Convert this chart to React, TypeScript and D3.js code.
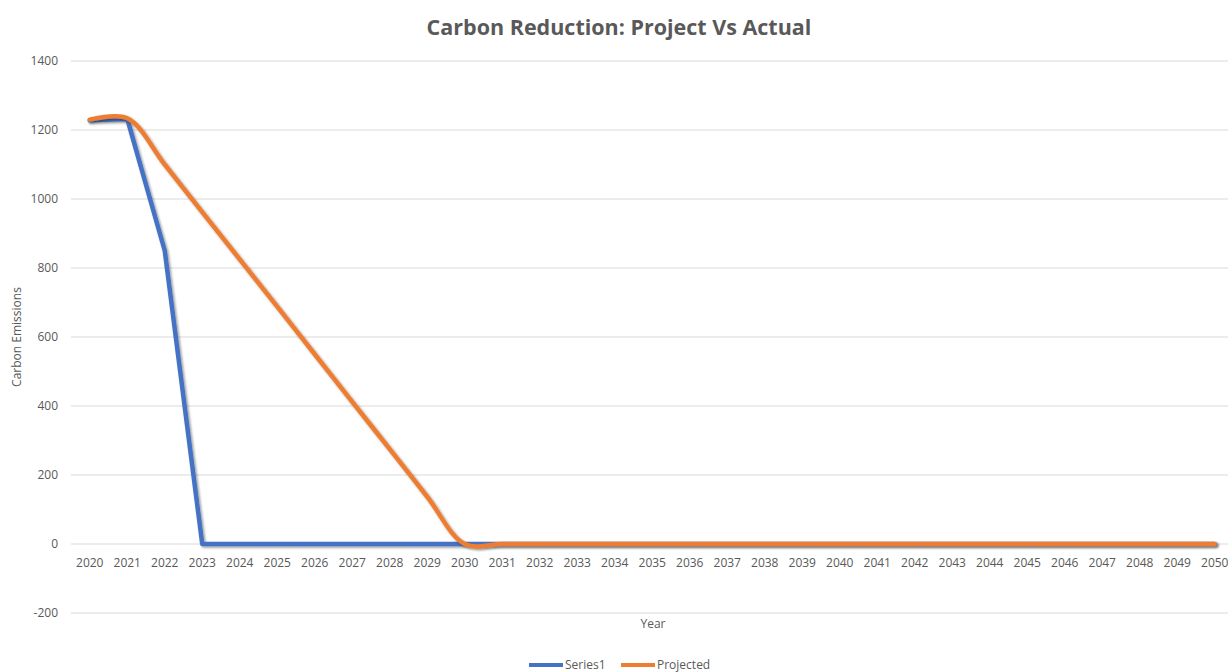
import React, { useEffect } from "react";
import * as d3 from "d3";

const years = d3.range(2020, 2051).map(String);
const series1 = [
  1228, 1232, 850, 0, 0, 0, 0, 0, 0, 0, 0, 0, 0, 0, 0, 0, 0, 0, 0, 0, 0, 0, 0,
  0, 0, 0, 0, 0, 0, 0, 0,
];
const projected = [
  1230, 1234, 1100, 962, 825, 688, 550, 412, 275, 137, 0, 0, 0, 0, 0, 0, 0, 0,
  0, 0, 0, 0, 0, 0, 0, 0, 0, 0, 0, 0, 0,
];
const yTicks = [-200, 0, 200, 400, 600, 800, 1000, 1200, 1400];

const W = 1228;
const H = 672;
const font = "'Open Sans', sans-serif";
const textColor = "#595959";

export default function App() {
  useEffect(() => {
    document.body.style.margin = "0";
  }, []);

  const x = d3
    .scaleBand<string>()
    .domain(years)
    .range([71, 71 + 31 * 37.5]);
  const cx = (d: string) => (x(d) ?? 0) + x.bandwidth() / 2;
  const y = d3.scaleLinear().domain([-200, 1400]).range([613, 61]);

  const makeLine = (curve: d3.CurveFactory) =>
    d3
      .line<number>()
      .x((_, i) => cx(years[i]))
      .y((d) => y(d))
      .curve(curve);

  const series = [
    { name: "Series1", values: series1, color: "#4472C4", curve: d3.curveLinear },
    {
      name: "Projected",
      values: projected,
      color: "#ED7D31",
      curve: d3.curveCatmullRom.alpha(0.5),
    },
  ];

  return (
    <svg width={W} height={H} style={{ display: "block", background: "#fff" }}>
      <defs>
        <filter id="shadow" x="-5%" y="-5%" width="110%" height="110%">
          <feDropShadow dx="1.5" dy="1.5" stdDeviation="1.3" floodColor="#000" floodOpacity="0.4" />
        </filter>
      </defs>
      <text
        x={619}
        y={35}
        textAnchor="middle"
        fontFamily={font}
        fontWeight="bold"
        fontSize={21.5}
        fill={textColor}
      >
        Carbon Reduction: Project Vs Actual
      </text>

      {yTicks.map((t) => (
        <g key={t}>
          <line x1={71} x2={W} y1={y(t)} y2={y(t)} stroke="#d9d9d9" strokeWidth={1} />
          <text
            x={58}
            y={y(t)}
            dy="0.35em"
            textAnchor="end"
            fontFamily={font}
            fontSize={12}
            fill={textColor}
          >
            {t}
          </text>
        </g>
      ))}

      {years.map((yr) => (
        <text
          key={yr}
          x={cx(yr)}
          y={y(0) + 23}
          textAnchor="middle"
          fontFamily={font}
          fontSize={12}
          fill={textColor}
        >
          {yr}
        </text>
      ))}

      <text
        transform={`translate(21,${(y(1400) + y(-200)) / 2}) rotate(-90)`}
        textAnchor="middle"
        fontFamily={font}
        fontSize={12}
        fill={textColor}
      >
        Carbon Emissions
      </text>
      <text x={653} y={628} textAnchor="middle" fontFamily={font} fontSize={12} fill={textColor}>
        Year
      </text>

      {series.map((s) => (
        <path
          key={s.name}
          d={makeLine(s.curve)(s.values) ?? ""}
          fill="none"
          stroke={s.color}
          strokeWidth={4.5}
          strokeLinecap="round"
          strokeLinejoin="round"
          filter="url(#shadow)"
        />
      ))}

      {series.map((s, i) => {
        const lx = 529 + i * 92;
        return (
          <g key={s.name}>
            <line x1={lx} x2={lx + 34} y1={665} y2={665} stroke={s.color} strokeWidth={4} />
            <text x={lx + 36} y={669} fontFamily={font} fontSize={12} fill={textColor}>
              {s.name}
            </text>
          </g>
        );
      })}
    </svg>
  );
}
